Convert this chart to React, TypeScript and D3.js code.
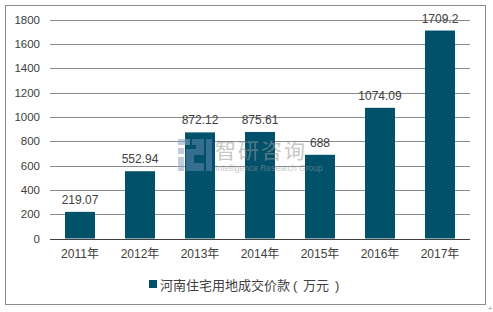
import React from "react";
import * as d3 from "d3";

const categories = ["2011年", "2012年", "2013年", "2014年", "2015年", "2016年", "2017年"];
const values = [219.07, 552.94, 872.12, 875.61, 688, 1074.09, 1709.2];
const valueLabels = ["219.07", "552.94", "872.12", "875.61", "688", "1074.09", "1709.2"];
const yTicks = [0, 200, 400, 600, 800, 1000, 1200, 1400, 1600, 1800];
const seriesName = "河南住宅用地成交价款（万元）";

const W = 493;
const H = 312;
const plot = { left: 50, right: 470, top: 19.5, bottom: 238.5 };
const barColor = "#02516b";
const textColor = "#404040";

export default function App() {
  const x = d3.scaleBand<string>().domain(categories).range([plot.left, plot.right]).paddingInner(0.5).paddingOuter(0.25);
  const y = d3.scaleLinear().domain([0, 1800]).range([plot.bottom, plot.top]);
  const legendFont = 13;
  const legendChars = Array.from(seriesName);

  return (
    <svg width={W} height={H} style={{ position: "absolute", left: 0, top: 0, background: "#fff" }}
      fontFamily="'Liberation Sans', Arial, sans-serif">
      <rect x={5.5} y={5.5} width={480} height={299} fill="#fff" stroke="#8c8c8c" strokeWidth={1} />
      {yTicks.map((t) => (
        <g key={t}>
          {t !== 0 && (
            <line x1={plot.left} x2={plot.right} y1={Math.round(y(t)) + 0.5} y2={Math.round(y(t)) + 0.5} stroke="#8a8a8a" strokeWidth={1} />
          )}
          <text x={40} y={y(t) + 4} textAnchor="end" fontSize={11.5} fill={textColor}>{t}</text>
        </g>
      ))}
      {categories.map((c, i) => (
        <g key={c}>
          <rect x={x(c)!} y={y(values[i])} width={x.bandwidth()} height={y(0) - y(values[i])} fill={barColor} />
          <text x={x(c)! + x.bandwidth() / 2} y={y(values[i]) - 8} textAnchor="middle" fontSize={12} fill={textColor}>{valueLabels[i]}</text>
          <text x={x(c)! + x.bandwidth() / 2} y={258} textAnchor="middle" fontSize={12} fill={textColor}
            fontFamily="'Liberation Sans', 'Noto Sans CJK SC', sans-serif">{c}</text>
        </g>
      ))}
      <line x1={plot.left} x2={plot.right} y1={Math.round(y(0)) + 0.5} y2={Math.round(y(0)) + 0.5} stroke="#404040" strokeWidth={1} />
      {/* watermark */}
      <g opacity={0.55}>
        <rect x={178} y={139} width={12} height={6} fill="#8fa3c4" />
        <rect x={178} y={148} width={6} height={6} fill="#8fa3c4" />
        <rect x={178} y={157} width={6} height={14} fill="#8fa3c4" />
        <path d="M192 139 h12 v16 h-10 v8 h10 v8 h-18 v-22 h10 v-4 h-4 z" fill="#5f86b0" />
        <rect x={206} y={139} width={6} height={32} fill="#5f86b0" />
        <text x={215} y={158} fontSize={21} fill="#9a9a9a" fontFamily="'Noto Sans CJK SC', sans-serif" letterSpacing={2}>智研咨询</text>
        <text x={215} y={170.5} fontSize={8.5} fill="#9a9a9a" fontFamily="'Liberation Sans', sans-serif">Intelligence Research Group</text>
      </g>
      <rect x={149} y={280} width={8} height={8} fill={barColor} />
      <text y={289.5} fontSize={legendFont} fill={textColor} fontFamily="'Noto Sans CJK SC', sans-serif">
        {legendChars.map((ch, i) => {
          const isOpen = ch === "（";
          const isClose = ch === "）";
          if (isOpen || isClose) {
            return (
              <tspan key={i} x={160 + i * legendFont + (isOpen ? 3 : 6)} fontFamily="'Liberation Sans', sans-serif">
                {isOpen ? "(" : ")"}
              </tspan>
            );
          }
          return <tspan key={i} x={160 + i * legendFont}>{ch}</tspan>;
        })}
      </text>
      <text x={490} y={311} fontSize={8} fill="#999" textAnchor="middle">+</text>
    </svg>
  );
}
